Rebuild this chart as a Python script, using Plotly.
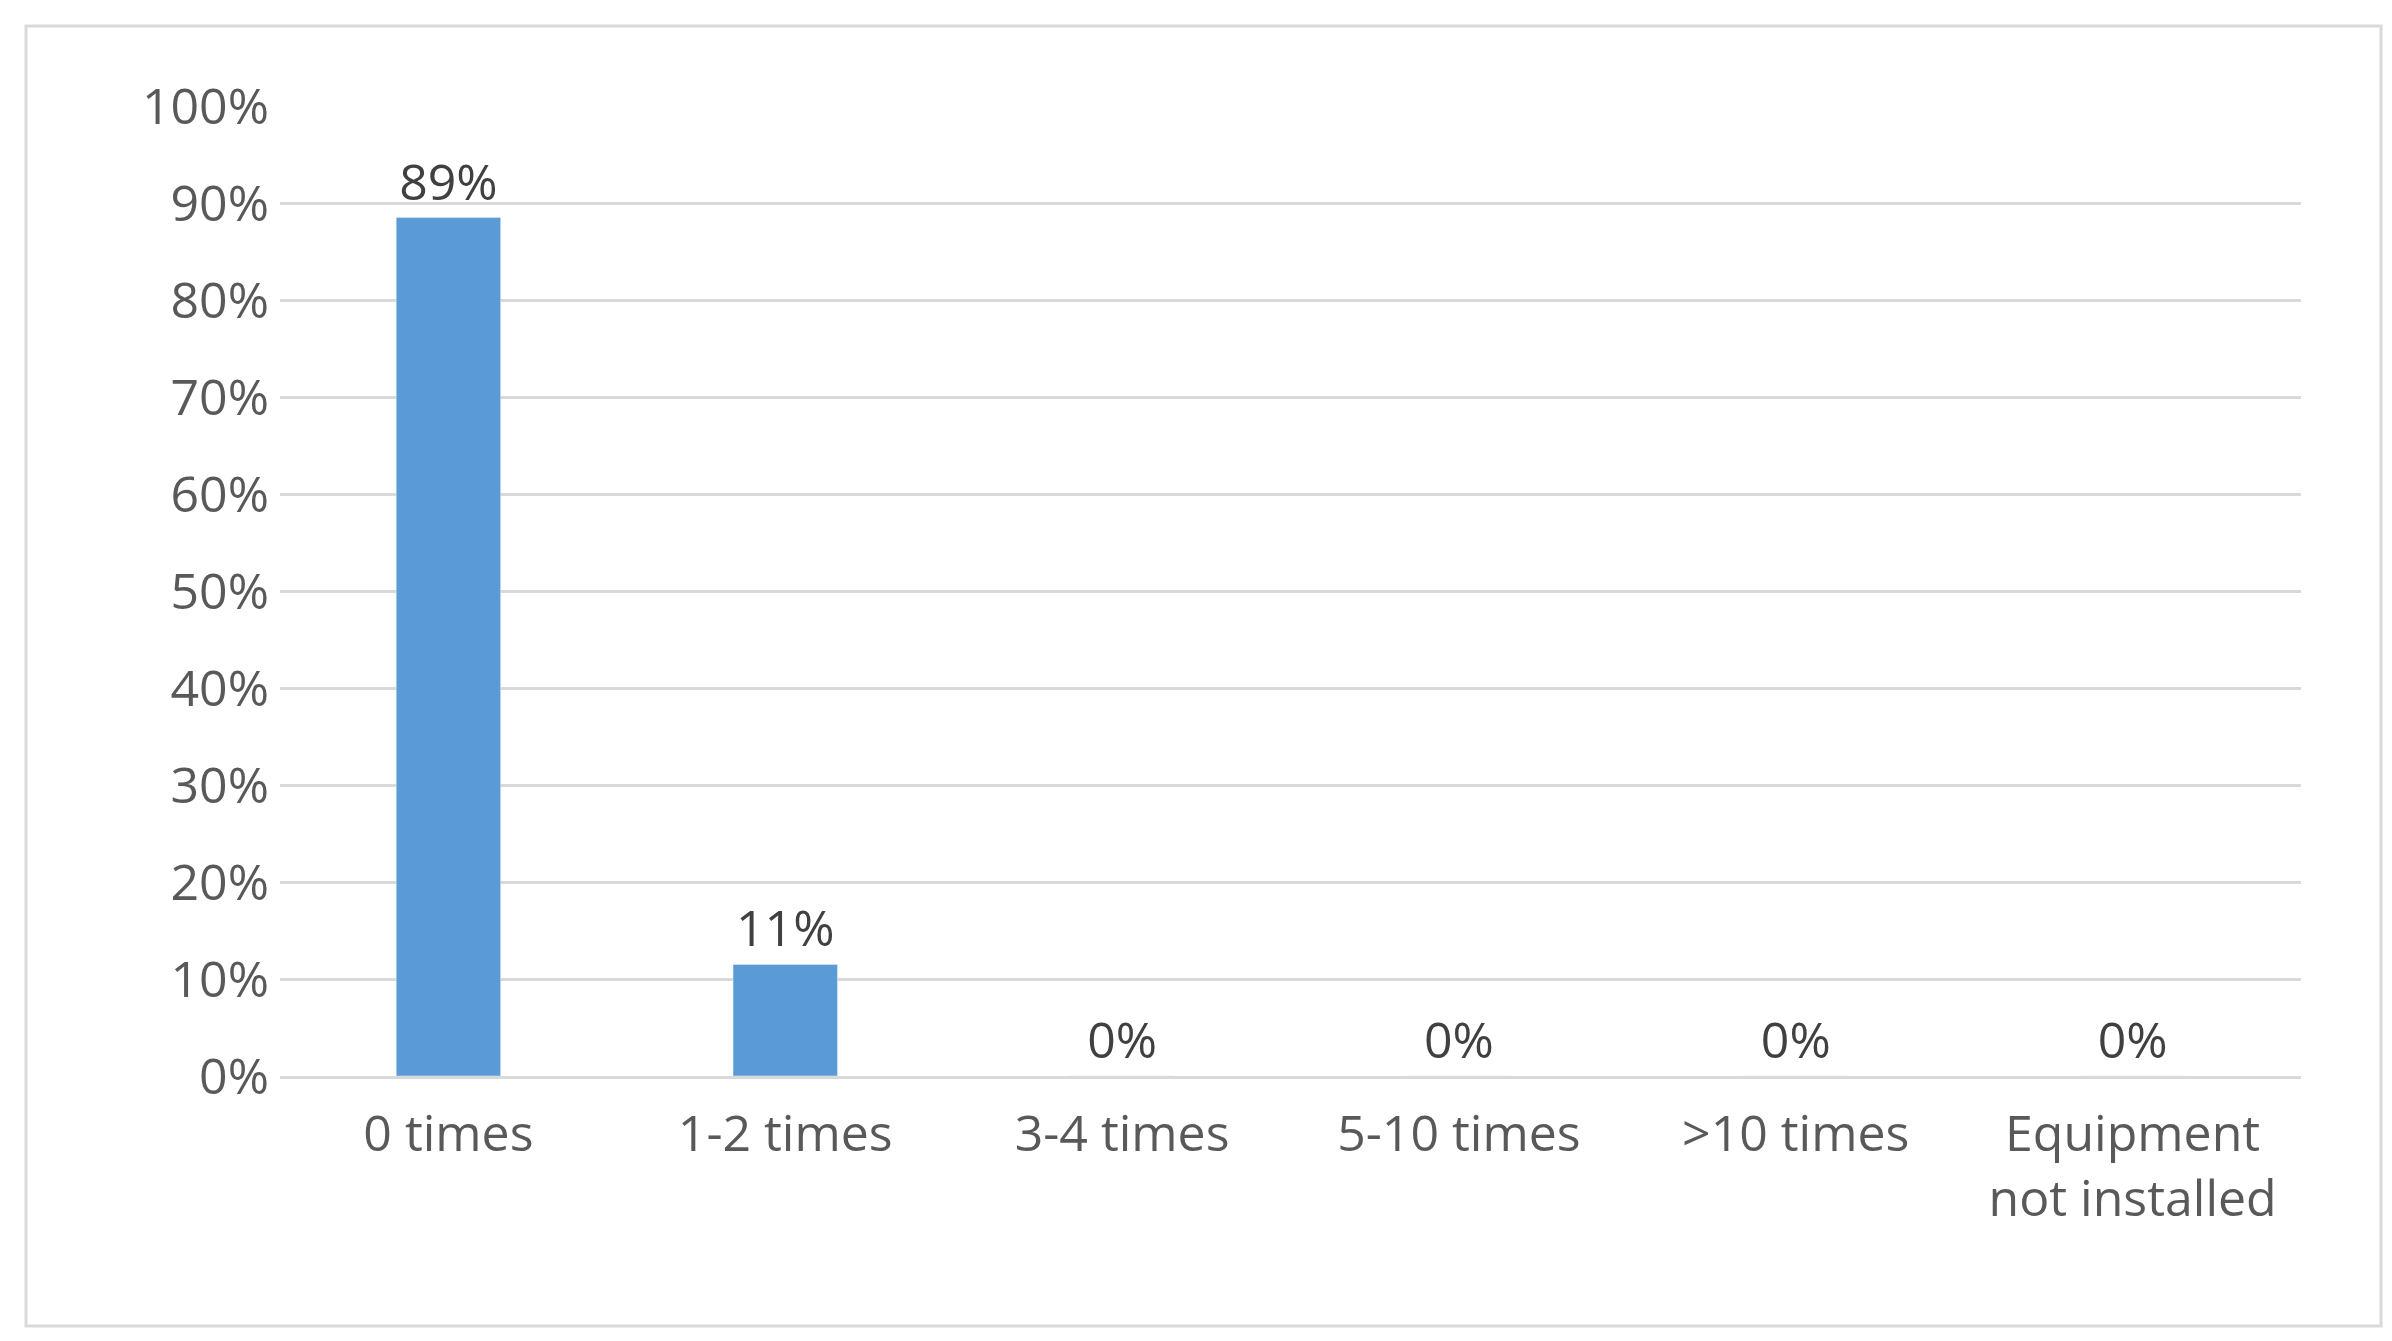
import plotly.graph_objects as go

categories = ["0 times", "1-2 times", "3-4 times", "5-10 times", ">10 times", "Equipment<br>not installed"]
values = [0.885, 0.115, 0, 0, 0, 0]
labels = ["89%", "11%", "0%", "0%", "0%", "0%"]
yticks = [i / 10 for i in range(11)]
yticklabels = [f"{i*10}%" for i in range(11)]

fig = go.Figure(go.Bar(
    x=categories, y=values, text=labels, textposition="outside",
    marker_color="#5B9BD5", cliponaxis=False,
    textfont=dict(size=50, color="#404040", family="Open Sans"),
))
W, H = 2392, 1341
fig.update_layout(
    width=W, height=H, paper_bgcolor="white", plot_bgcolor="white",
    margin=dict(l=272, r=W - 2293, t=98, b=H - 1068),
    bargap=0.69, showlegend=False,
    font=dict(family="Open Sans", size=50, color="#595959"),
    shapes=[dict(type="rect", xref="paper", yref="paper",
                 x0=-254 / 2021, x1=(2373 - 272) / 2021,
                 y0=-(1318 - 1068) / 970, y1=(1068 - 18) / 970,
                 line=dict(color="#D9D9D9", width=3))],
)
fig.update_yaxes(range=[0, 1], tickvals=yticks, ticktext=yticklabels,
                 gridcolor="#D9D9D9", gridwidth=3, zeroline=False,
                 ticklen=0, ticks="outside", tickcolor="white")
fig.update_xaxes(showline=True, linecolor="#D9D9D9", linewidth=3,
                 ticks="outside", ticklen=12, tickcolor="white")
fig.write_html("out.html")
